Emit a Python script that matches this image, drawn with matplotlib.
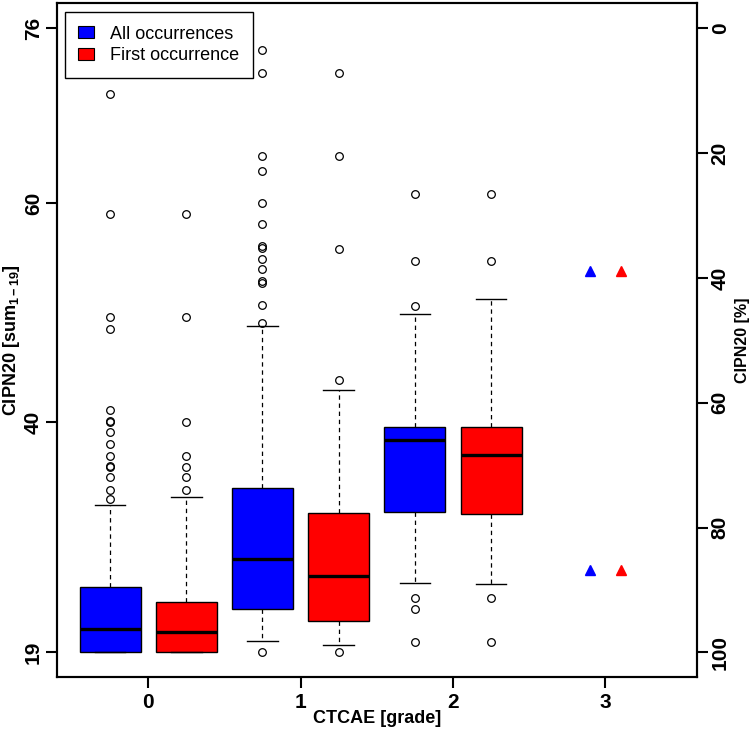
import matplotlib.pyplot as plt
from matplotlib.patches import Patch

plt.rcParams['font.family'] = ['Liberation Sans', 'DejaVu Sans']
plt.rcParams['mathtext.default'] = 'regular'

# CTCAE grades with boxes (CIPN20 sum score)
grades = [0, 1, 2]

all_q1 = [19.0, 23.0, 31.8]
all_med = [21.1, 27.5, 38.4]
all_q3 = [25.0, 34.0, 39.6]
all_lo = [19.0, 20.0, 25.3]
all_hi = [32.5, 48.8, 49.9]
all_fliers = [
    [70.0, 59.0, 49.6, 48.5, 41.1, 40.1, 40.0, 39.1, 38.0, 36.9, 36.0, 35.9, 35.0, 33.8, 33.0],
    [74.0, 71.9, 64.3, 63.0, 60.0, 58.1, 56.1, 55.9, 54.9, 54.0, 52.9, 52.7, 50.7, 49.1, 19.0],
    [60.9, 54.75, 50.65, 24.0, 23.0, 19.9],
]

first_q1 = [19.0, 21.9, 31.6]
first_med = [20.9, 26.0, 37.0]
first_q3 = [23.6, 31.7, 39.6]
first_lo = [19.0, 19.7, 25.2]
first_hi = [33.2, 43.0, 51.3]
first_fliers = [
    [59.0, 49.6, 40.0, 36.9, 35.9, 35.0, 33.8],
    [71.9, 64.3, 55.8, 43.9, 19.0],
    [60.9, 54.75, 23.95, 19.9],
]

# grade 3: single observations (triangles)
g3_grade = 3
g3_values = [53.8, 26.5]

ymin_score, ymax_score = 19, 76


def make_stats(q1, med, q3, lo, hi, fl):
    out = []
    for i in range(len(q1)):
        out.append(dict(q1=q1[i], med=med[i], q3=q3[i], whislo=lo[i], whishi=hi[i], fliers=fl[i]))
    return out


fig = plt.figure(figsize=(7.5, 7.3), dpi=100)
ax = fig.add_axes([0.0757, 0.0722, 0.8533, 0.9233])

pad = 0.04 * (ymax_score - ymin_score)
ax.set_ylim(ymin_score - pad, ymax_score + pad)
ax.set_xlim(-0.6, 3.6)

common = dict(
    widths=0.4, patch_artist=True, manage_ticks=False,
    medianprops=dict(color='black', linewidth=2.4, solid_capstyle='butt'),
    whiskerprops=dict(color='black', linewidth=0.9, linestyle=(0, (3.5, 3))),
    capprops=dict(color='black', linewidth=1.0),
    flierprops=dict(marker='o', markerfacecolor='none', markeredgecolor='black',
                    markersize=5.5, markeredgewidth=0.9, linestyle='none'),
)

ax.bxp(make_stats(all_q1, all_med, all_q3, all_lo, all_hi, all_fliers),
       positions=[g - 0.25 for g in grades],
       boxprops=dict(facecolor='#0000ff', edgecolor='black', linewidth=1.0), **common)
ax.bxp(make_stats(first_q1, first_med, first_q3, first_lo, first_hi, first_fliers),
       positions=[g + 0.25 for g in grades],
       boxprops=dict(facecolor='#ff0000', edgecolor='black', linewidth=1.0), **common)

ax.plot([g3_grade - 0.1] * len(g3_values), g3_values, linestyle='none', marker='^',
        color='#0000ff', markersize=7)
ax.plot([g3_grade + 0.1] * len(g3_values), g3_values, linestyle='none', marker='^',
        color='#ff0000', markersize=7)

ax.set_xticks([0, 1, 2, 3])
ax.set_xticklabels(['0', '1', '2', '3'], fontsize=15, fontweight='bold')
ax.set_yticks([19, 40, 60, 76])
ax.set_yticklabels(['19', '40', '60', '76'], fontsize=15, fontweight='bold',
                   rotation=90, va='center')
ax.tick_params(axis='both', length=8, width=1.5, direction='out')
ax.tick_params(axis='x', pad=3)
ax.tick_params(axis='y', pad=2)
for s in ax.spines.values():
    s.set_linewidth(1.5)

ax.set_xlabel('CTCAE [grade]', fontsize=13, fontweight='bold', labelpad=-1)
ax.set_ylabel('CIPN20 [sum$_{1-19}$]', fontsize=13, fontweight='bold', labelpad=1)

# right axis in percent
ax2 = ax.twinx()
lo, hi = ax.get_ylim()
ax2.set_ylim((ymax_score - lo) / (ymax_score - ymin_score) * 100,
             (ymax_score - hi) / (ymax_score - ymin_score) * 100)
ax2.set_yticks([0, 20, 40, 60, 80, 100])
ax2.set_yticklabels(['0', '20', '40', '60', '80', '100'], fontsize=15, fontweight='bold',
                    rotation=90, va='center')
ax2.tick_params(axis='y', length=8, width=1.5, direction='out', pad=2)
for s in ax2.spines.values():
    s.set_linewidth(1.5)
ax2.set_ylabel('CIPN20 [%]', fontsize=11.5, fontweight='bold', labelpad=4)

handles = [Patch(facecolor='#0000ff', edgecolor='black', linewidth=0.8),
           Patch(facecolor='#ff0000', edgecolor='black', linewidth=0.8)]
leg = ax.legend(handles, ['All occurrences', 'First occurrence'], loc='upper left',
                bbox_to_anchor=(0.0125, 0.987), borderaxespad=0, fancybox=False,
                edgecolor='black', framealpha=1, fontsize=13, handlelength=0.85,
                handleheight=0.65, handletextpad=0.9, borderpad=0.75, labelspacing=0.25)
leg.get_frame().set_linewidth(1.0)

fig.savefig('out.png', dpi=100)
